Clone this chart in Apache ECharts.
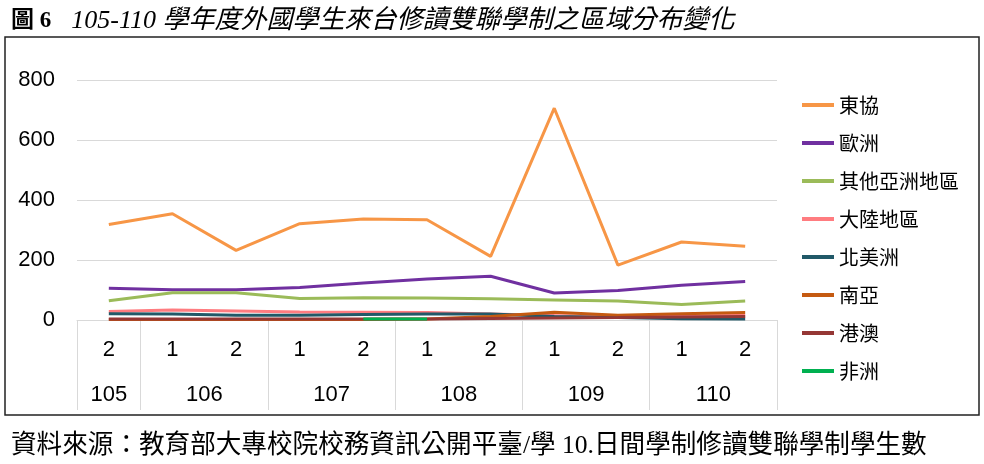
<!DOCTYPE html>
<html>
<head>
<meta charset="utf-8">
<script src="https://cdn.jsdelivr.net/npm/echarts@6/dist/echarts.min.js"></script>
<style>
html,body{margin:0;padding:0;background:#fff;}
#c{width:984px;height:464px;}
</style>
</head>
<body>
<div id="c"></div>
<script>
// ---- data ----
const semesters = ['2','1','2','1','2','1','2','1','2','1','2'];
const years = ['105','106','107','108','109','110'];
const yearSpans = [1,2,2,2,2,2];
const yTicks = [0,200,400,600,800];

const seriesNames = ['東協','歐洲','其他亞洲地區','大陸地區','北美洲','南亞','港澳','非洲'];
const aseanVals     = [318, 354, 232, 321, 337, 334, 212, 706, 183, 260, 246];
const europeVals    = [106, 101, 101, 108, 123, 137, 146, 90, 98, 116, 128];
const otherAsiaVals = [64, 91, 91, 72, 74, 73, 71, 67, 63, 52, 63];
const chinaVals     = [28, 33, 30, 27, 26, 25, 20, 15, 12, 14, 15];
const northAmVals   = [21, 20, 16, 16, 18, 20, 20, 12, 8, 4, 3];
const southAsiaVals = [2, 2, 2, 2, 2, 3, 12, 26, 16, 21, 25];
const hkMacauVals   = [3, 3, 3, 3, 3, 3, 5, 7, 8, 10, 12];
const africaVals    = [null, null, null, null, 3, 3, null, null, null, null, null];

const colors = ['#F79646','#7030A0','#9BBB59','#FF7C80','#215968','#C55A11','#953735','#00B050'];
const allVals = [aseanVals, europeVals, otherAsiaVals, chinaVals, northAmVals, southAsiaVals, hkMacauVals, africaVals];

// year group positions derived from spans
const yearCenters = [], yearBounds = [];
let start = -0.5;
yearSpans.forEach(s => { yearBounds.push(start); yearCenters.push(start + s / 2); start += s; });
yearBounds.push(start);

const latinCJK = "'Liberation Sans','Noto Sans CJK TC',sans-serif";
const serifCJK = "'Liberation Serif','Noto Sans CJK TC',serif";

const chart = echarts.init(document.getElementById('c'));
chart.setOption({
  animation: false,
  backgroundColor: '#fff',
  title: [{
    left: 6, top: 3,
    text: '{b|圖 6}    {i|105-110 學年度外國學生來台修讀雙聯學制之區域分布變化}',
    textStyle: {
      fontWeight: 'normal',
      rich: {
        b: {fontFamily: serifCJK, fontWeight: 'bold', fontSize: 23, color: '#000'},
        i: {fontFamily: serifCJK, fontStyle: 'italic', fontWeight: 'normal', fontSize: 26, color: '#000'}
      }
    }
  }, {
    left: 6, top: 428,
    text: '資料來源：教育部大專校院校務資訊公開平臺/學 10.日間學制修讀雙聯學制學生數',
    textStyle: {fontFamily: serifCJK, fontWeight: 'normal', fontSize: 25.6, color: '#000'}
  }],
  graphic: [{
    type: 'rect', silent: true,
    shape: {x: 5, y: 37, width: 974, height: 378},
    style: {fill: 'none', stroke: '#222', lineWidth: 1.5}
  }],
  legend: {
    orient: 'vertical', left: 797, top: 90,
    itemWidth: 32, itemHeight: 4, itemGap: 18,
    icon: 'rect',
    textStyle: {fontFamily: "'Noto Sans CJK TC',sans-serif", fontSize: 20, color: '#000', lineHeight: 20},
    data: seriesNames
  },
  grid: {left: 77, right: 207, top: 80, bottom: 144},
  xAxis: [{
    type: 'category', data: semesters, boundaryGap: true,
    axisLine: {lineStyle: {color: '#d9d9d9', width: 1}},
    axisTick: {show: false},
    axisLabel: {fontFamily: latinCJK, fontSize: 22, color: '#000', margin: 19}
  }, {
    type: 'value', min: -0.5, max: yearBounds[yearBounds.length - 1], position: 'bottom', offset: 0,
    axisLine: {show: false},
    splitLine: {show: false},
    axisTick: {show: true, customValues: yearBounds, length: 90, lineStyle: {color: '#d9d9d9', width: 1}},
    axisLabel: {
      customValues: yearCenters, fontFamily: latinCJK, fontSize: 22, color: '#000', margin: 64,
      formatter: v => { const i = yearCenters.findIndex(c => Math.abs(c - v) < 1e-6); return i >= 0 ? years[i] : ''; }
    }
  }],
  yAxis: {
    type: 'value', min: yTicks[0], max: yTicks[yTicks.length - 1], interval: 200,
    axisLine: {show: false}, axisTick: {show: false},
    splitLine: {lineStyle: {color: '#d9d9d9', width: 1}},
    axisLabel: {fontFamily: latinCJK, fontSize: 22, color: '#000', margin: 22}
  },
  series: seriesNames.map((n, i) => ({
    name: n, type: 'line', xAxisIndex: 0, data: allVals[i],
    showSymbol: false, symbol: 'none', connectNulls: false,
    lineStyle: {color: colors[i], width: 3},
    itemStyle: {color: colors[i]}
  }))
});
</script>
</body>
</html>
